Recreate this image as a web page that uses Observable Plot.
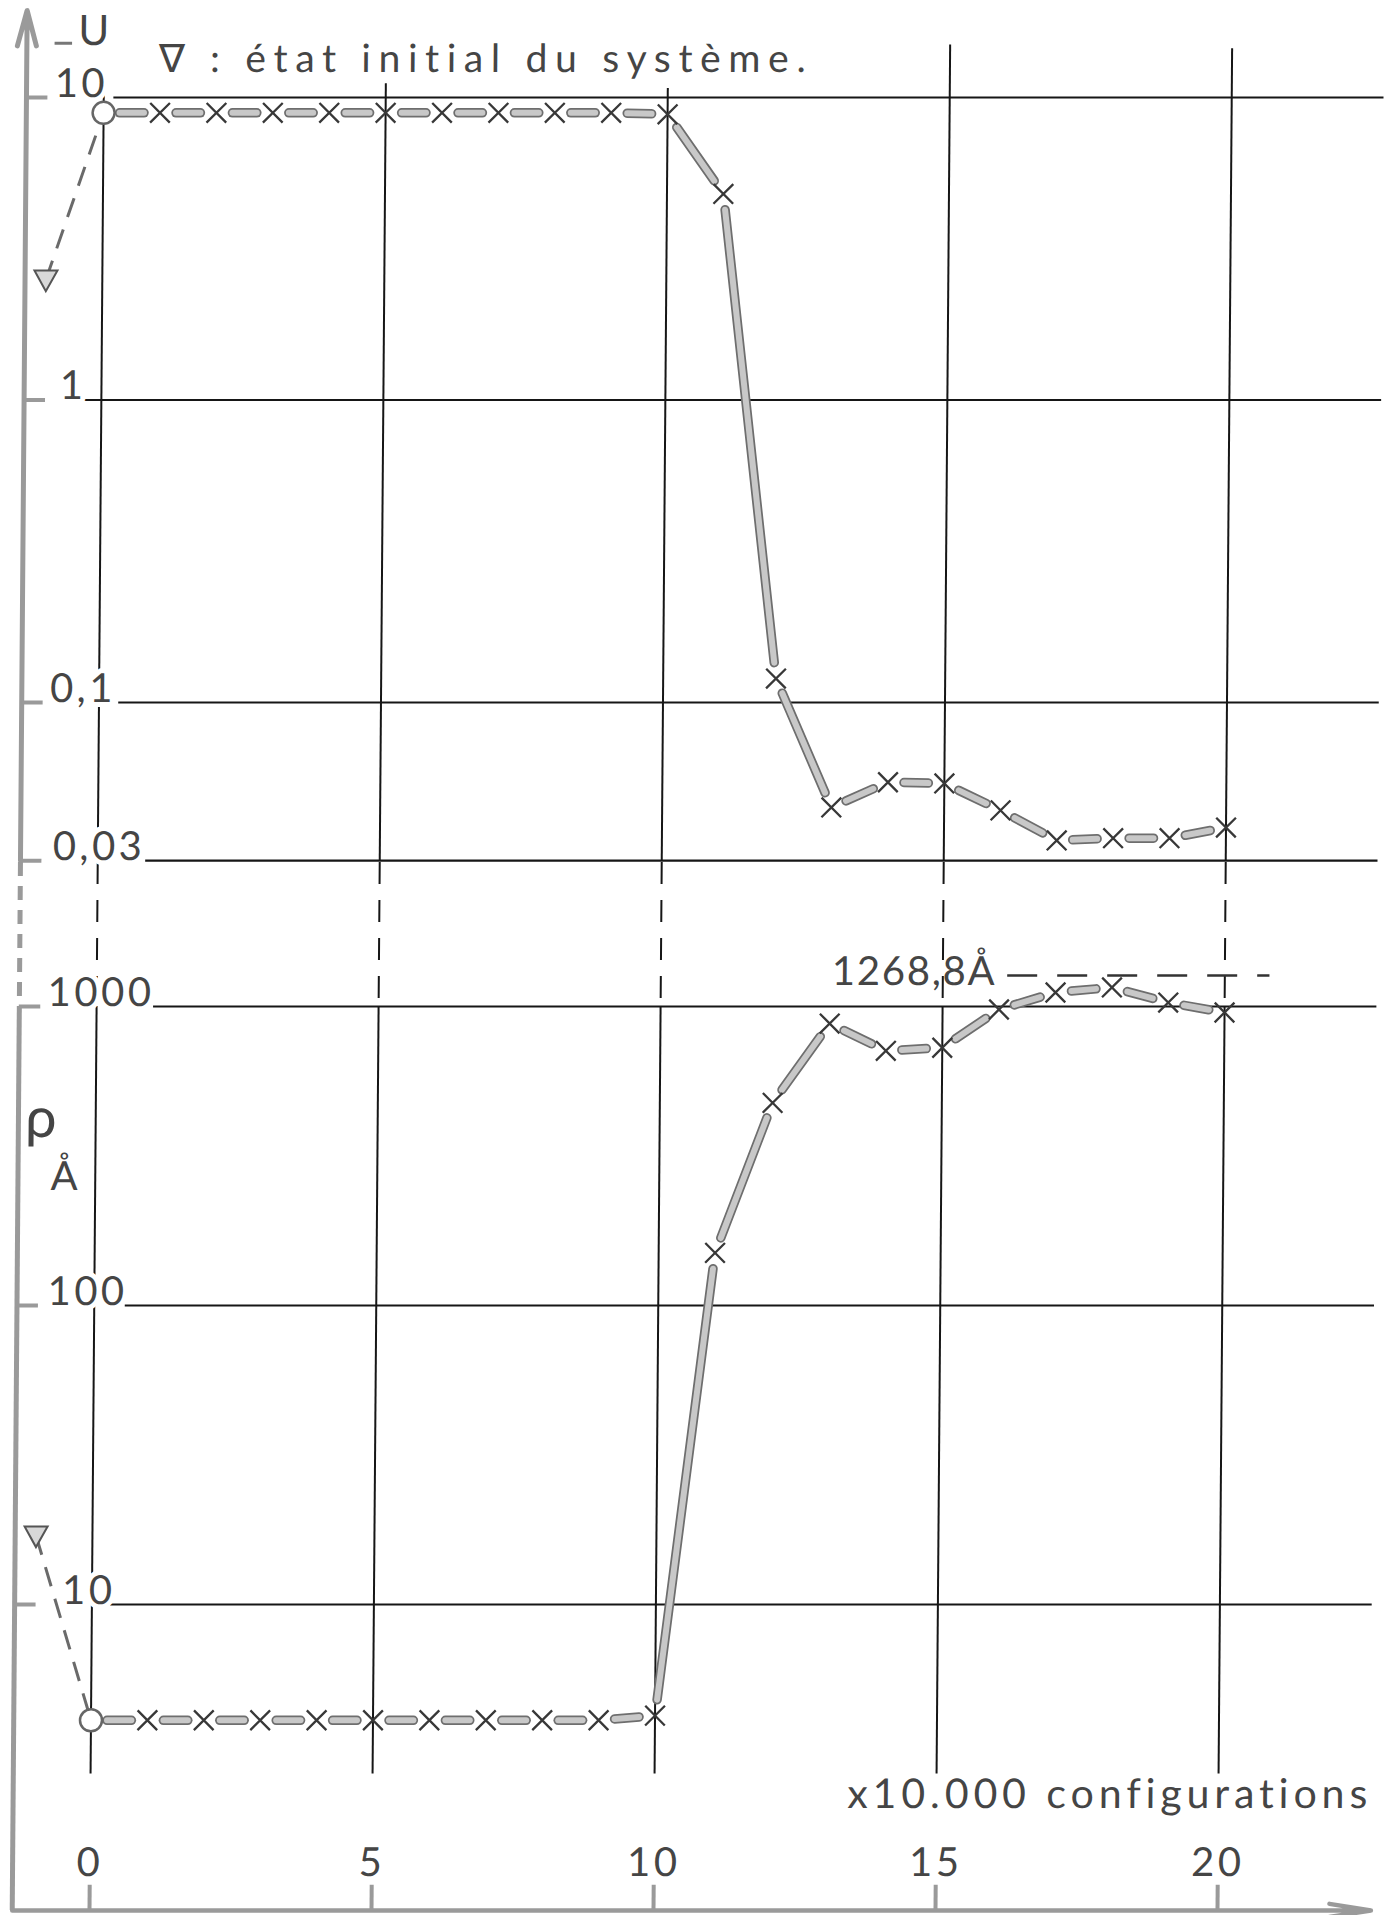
<!DOCTYPE html>
<html><head><meta charset="utf-8">
<script src="https://cdn.jsdelivr.net/npm/d3@7"></script>
<script src="https://cdn.jsdelivr.net/npm/@observablehq/plot@0.6"></script>
<style>
html,body{margin:0;padding:0;background:#fff;}
#wrap{position:relative;width:1396px;height:1915px;transform:skewX(-0.45deg);transform-origin:0 0;}
#wrap svg{position:absolute;left:0;top:0;}
#wrap svg text{font-family:Lato,"Open Sans","DejaVu Sans",sans-serif;letter-spacing:3.5px;font-variant-ligatures:none;font-feature-settings:"liga" 0,"clig" 0;}
</style></head><body><div id="wrap"></div>
<script>
// ---- data ----
const configs   = [0,1,2,3,4,5,6,7,8,9,10,11,12,13,14,15,16,17,18,19,20];
const energyU   = [8.9,8.9,8.9,8.9,8.9,8.9,8.9,8.9,8.9,8.9,8.8,4.8,0.12,0.045,0.0545,0.054,0.044,0.035,0.0356,0.0356,0.0386];
const radiusRho = [4.1,4.1,4.1,4.1,4.1,4.1,4.1,4.1,4.1,4.1,4.25,150,476,877,711,728,977,1114,1158,1031,955];
const initialConfig = -1;
const initialU = 2.5;
const initialRho = 17;
const rhoMax = 1268.8;
const rhoMaxLabel = "1268,8Å";
const uTicks = [10,1,0.1,0.03];
const uTickLabels = ["10","1","0,1","0,03"];
const rhoTicks = [1000,100,10];
const rhoTickLabels = ["1000","100","10"];
const xTicks = [0,5,10,15,20];
const xTickLabels = ["0","5","10","15","20"];
const titleText = "∇ : état initial du système.";
const uLabel = "U";
const rhoLabel = "ρ";
const rhoUnit = "Å";
const xLabel = "x10.000 configurations";

// ---- layout (scale ranges and annotation anchors, in data units) ----
const LAY = {
  width:1396, height:1915,
  xRange:[104,1232],
  uDomain:[0.1,10], uRange:[702,97],
  rhoDomain:[10,1000], rhoRange:[1604,1006],
  axisX:-1.37, axisEndX:22.72, gridEnd:22.7,
  uTip:19.4, uTop:[10.5,11.1,10.7,14.9,14.5], uJoin:0.03,
  uGridStart:[0.18,-0.32,0.35,0.85],
  rhoGridStart:[1.01,0.55,0.33],
  uLabelX:[-0.87,-0.74,-0.87,-0.8],
  rhoLabelX:[-0.87,-0.83,-0.53],
  rhoJoin:3031, rhoBottom:0.948, rhoTickTop:1.15, rhoXLabelY:1.36, rhoGridBottom:2.71,
  tickLen:0.38,
  titleX:0.97, titleY:12.1, titleLen:647,
  uLabelX0:-0.46, uLabelY:14.86, uDash:[-0.87,-0.56], uDashY:15.1,
  rhoSymX:-0.94, rhoSymY:365, rhoUnitX:-0.52, rhoUnitY:243,
  maxLabelX:13.03, maxLabelY:1176, maxLabelLen:163, maxDash:[16.15,20.8],
  xLabelX:22.64, xLabelY:2.094, xLabelLen:520
};

const GRID = "#161616", AXIS = "#9a9a9a", TXT = "#454545";
const BAR_OUT = "#6e6e6e", BAR_IN = "#c8c8c8", MARK = "#383838";

const triDown = {draw(ctx, size){const s=Math.sqrt(size/Math.PI);ctx.moveTo(-s,-0.8*s);ctx.lineTo(s,-0.8*s);ctx.lineTo(0,s);ctx.closePath();}};

function segs(xs, ys){return ys.slice(1).map((v,i)=>({x1:xs[i],y1:ys[i],x2:xs[i+1],y2:v}));}

function barMarks(xs, ys){
  const s = segs(xs, ys);
  const o = {x1:"x1",y1:"y1",x2:"x2",y2:"y2",inset:16,headLength:0,strokeLinecap:"round"};
  return [
    Plot.arrow(s,{...o,stroke:BAR_OUT,strokeWidth:9.5}),
    Plot.arrow(s,{...o,stroke:BAR_IN,strokeWidth:6})
  ];
}
function pointMarks(xs, ys, ix, iy){
  return [
    Plot.link([0],{x1:()=>ix,y1:()=>iy,x2:()=>xs[0],y2:()=>ys[0],stroke:"#6a6a6a",strokeWidth:3,strokeDasharray:"20,13"}),
    Plot.dot(xs.slice(1),{x:d=>d,y:(d,i)=>ys[i+1],symbol:"times",r:9,stroke:MARK,strokeWidth:2.3}),
    Plot.dot([0],{x:()=>xs[0],y:()=>ys[0],r:11,fill:"white",stroke:"#666",strokeWidth:2.5}),
    Plot.dot([0],{x:()=>ix,y:()=>iy,symbol:triDown,r:11.5,fill:"#d8d8d8",stroke:"#555",strokeWidth:2})
  ];
}
const txt = {fill:TXT,fontWeight:400,stroke:"white",strokeWidth:10,paintOrder:"stroke"};

const base = {width:LAY.width,height:LAY.height,margin:0,
  x:{domain:[0,20],range:LAY.xRange,axis:null},
  style:{background:"transparent",overflow:"visible"}};

// ---- lower panel : rho ----
const lower = Plot.plot({...base,
  y:{type:"log",domain:LAY.rhoDomain,range:LAY.rhoRange,axis:null},
  marks:[
    Plot.ruleY(rhoTicks,{y:d=>d,x1:(d,i)=>LAY.rhoGridStart[i],x2:()=>LAY.gridEnd,stroke:GRID,strokeWidth:2.2}),
    Plot.ruleX(xTicks,{x:d=>d,y1:()=>LAY.rhoJoin,y2:()=>1000,stroke:GRID,strokeWidth:2,strokeDasharray:"22,16"}),
    Plot.ruleX(xTicks,{x:d=>d,y1:()=>1000,y2:()=>LAY.rhoGridBottom,stroke:GRID,strokeWidth:2}),
    Plot.ruleY([rhoMax],{y:d=>d,x1:()=>LAY.maxDash[0],x2:()=>LAY.maxDash[1],stroke:"#333",strokeWidth:2.5,strokeDasharray:"30,20"}),
    Plot.ruleX([LAY.axisX],{x:d=>d,y1:()=>LAY.rhoJoin,y2:()=>1000,stroke:AXIS,strokeWidth:5,strokeDasharray:"14,10"}),
    Plot.ruleX([LAY.axisX],{x:d=>d,y1:()=>1000,y2:()=>LAY.rhoBottom,stroke:AXIS,strokeWidth:5}),
    Plot.arrow([0],{x1:()=>LAY.axisX,x2:()=>LAY.axisEndX,y1:()=>LAY.rhoBottom,y2:()=>LAY.rhoBottom,stroke:AXIS,strokeWidth:4.5,headLength:14,headAngle:18}),
    Plot.ruleY(rhoTicks,{y:d=>d,x1:()=>LAY.axisX,x2:()=>LAY.axisX+LAY.tickLen,stroke:AXIS,strokeWidth:4}),
    Plot.ruleX(xTicks,{x:d=>d,y1:()=>LAY.rhoBottom,y2:()=>LAY.rhoTickTop,stroke:AXIS,strokeWidth:4}),
    Plot.text(xTickLabels,{x:(d,i)=>xTicks[i],y:()=>LAY.rhoXLabelY,text:d=>d,fontSize:40,lineAnchor:"middle",...txt}),
    Plot.text(rhoTickLabels,{x:(d,i)=>LAY.rhoLabelX[i],y:(d,i)=>rhoTicks[i],text:d=>d,fontSize:40,textAnchor:"start",lineAnchor:"bottom",dy:-1,...txt}),
    ...barMarks(configs, radiusRho),
    ...pointMarks(configs, radiusRho, initialConfig, initialRho),
    Plot.text([rhoMaxLabel],{x:()=>LAY.maxLabelX,y:()=>LAY.maxLabelY,text:d=>d,fontSize:40,textAnchor:"start",lineAnchor:"bottom",...txt,strokeWidth:0}),
    Plot.text([xLabel],{x:()=>LAY.xLabelX,y:()=>LAY.xLabelY,text:d=>d,fontSize:41,textAnchor:"end",lineAnchor:"bottom",...txt}),
    Plot.text([rhoLabel],{x:()=>LAY.rhoSymX,y:()=>LAY.rhoSymY,text:d=>d,fontSize:56,lineAnchor:"bottom",...txt}),
    Plot.text([rhoUnit],{x:()=>LAY.rhoUnitX,y:()=>LAY.rhoUnitY,text:d=>d,fontSize:40,lineAnchor:"bottom",...txt})
  ]});

// ---- upper panel : -U ----
const upper = Plot.plot({...base,
  y:{type:"log",domain:LAY.uDomain,range:LAY.uRange,axis:null},
  marks:[
    Plot.ruleY(uTicks,{y:d=>d,x1:(d,i)=>LAY.uGridStart[i],x2:()=>LAY.gridEnd,stroke:GRID,strokeWidth:2.2}),
    Plot.ruleX(xTicks,{x:d=>d,y1:()=>LAY.uJoin,y2:(d,i)=>LAY.uTop[i],stroke:GRID,strokeWidth:2}),
    Plot.arrow([0],{x1:()=>LAY.axisX,x2:()=>LAY.axisX,y1:()=>LAY.uJoin,y2:()=>LAY.uTip,stroke:AXIS,strokeWidth:5,headLength:11,headAngle:30}),
    Plot.ruleY(uTicks,{y:d=>d,x1:()=>LAY.axisX,x2:()=>LAY.axisX+LAY.tickLen,stroke:AXIS,strokeWidth:4}),
    Plot.ruleY([LAY.uDashY],{y:d=>d,x1:()=>LAY.uDash[0],x2:()=>LAY.uDash[1],stroke:"#777",strokeWidth:3}),
    Plot.text(uTickLabels,{x:(d,i)=>LAY.uLabelX[i],y:(d,i)=>uTicks[i],text:d=>d,fontSize:40,textAnchor:"start",lineAnchor:"bottom",dy:-1,...txt}),
    ...barMarks(configs, energyU),
    ...pointMarks(configs, energyU, initialConfig, initialU),
    Plot.text([uLabel],{x:()=>LAY.uLabelX0,y:()=>LAY.uLabelY,text:d=>d,fontSize:42,textAnchor:"start",lineAnchor:"bottom",...txt}),
    Plot.text([titleText],{x:()=>LAY.titleX,y:()=>LAY.titleY,text:d=>d,fontSize:39,textAnchor:"start",lineAnchor:"bottom",...txt,strokeWidth:0})
  ]});

const wrap = document.getElementById("wrap");
wrap.appendChild(lower);
wrap.appendChild(upper);

function fitText(svg, content, len){
  d3.select(svg).selectAll("text").filter(function(){return this.textContent === content;})
    .style("letter-spacing","0px").attr("textLength",len).attr("lengthAdjust","spacing");
}
fitText(upper,titleText,LAY.titleLen);
fitText(lower,xLabel,LAY.xLabelLen);
fitText(lower,rhoMaxLabel,LAY.maxLabelLen);
</script></body></html>
